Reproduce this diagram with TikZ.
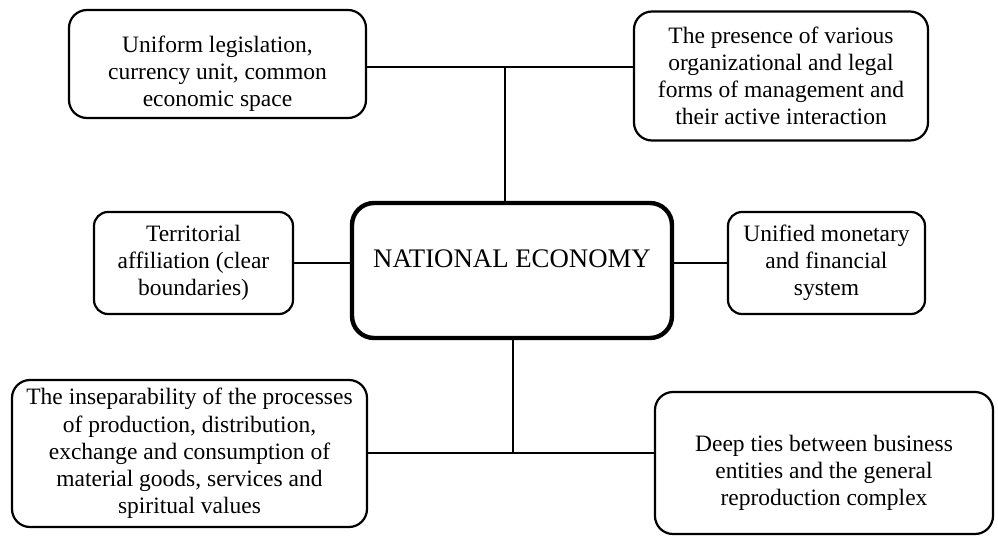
\documentclass[tikz,border=0pt]{standalone}
\usepackage{fontspec}
\setmainfont{Liberation Serif}
\usetikzlibrary{positioning}
\tikzset{main node/.style={rectangle,rounded corners=9pt,draw,line width=1.1pt,align=center,inner sep=2pt,font=\fontsize{11.75}{13.6}\selectfont} }
% strut that pushes the text of a box a little lower
\newcommand{\dropstrut}{\rule{0pt}{18pt}}

\begin{document}
\begin{tikzpicture}[x=0.5pt,y=-0.5pt]
\useasboundingbox (0,0) rectangle (998,536);

  \node[main node,line width=2.2pt,rounded corners=11pt,minimum width=160pt,minimum height=67.5pt,text height=8pt,text depth=10.6pt,font=\fontsize{13.4}{15}\selectfont] (1) at (512,270.5) {NATIONAL ECONOMY};
  \node[main node,minimum width=148.5pt,minimum height=54pt] (2) at (217.5,64) {\dropstrut Uniform legislation,\\ currency unit, common\\ economic space};
  \node[main node,minimum width=147pt,minimum height=64.5pt] (3) at (781,76) {The presence of various\\ organizational and legal\\ forms of management and\\ their active interaction};
  \node[main node,rounded corners=7pt,minimum width=99.5pt,minimum height=51pt] (4) at (193.5,263) {Territorial\\ affiliation (clear\\ boundaries)};
  \node[main node,rounded corners=7pt,minimum width=98.5pt,minimum height=51pt] (5) at (826.5,263) {Unified monetary\\ and financial\\ system};
  \node[main node,minimum width=177.5pt,minimum height=73.5pt] (6) at (189.5,453.5) {The inseparability of the processes\\ of production, distribution,\\ exchange and consumption of\\ material goods, services and\\ spiritual values};
  \node[main node,minimum width=169pt,minimum height=71pt] (7) at (824,463) {\dropstrut Deep ties between business\\ entities and the general\\ reproduction complex};

  % junctions of the branch lines
  \coordinate (a) at (505,67);
  \coordinate (b) at (513,453);

    \path[line width=0.8pt]
    (a -| 2.east) edge [-] (a -| 3.west)
    (a) edge [-] (a |- 1.north)
    (4.east) edge [-] (4.east -| 1.west)
    (5.west -| 1.east) edge [-] (5.west)
    (b |- 1.south) edge [-] (b)
    (b -| 6.east) edge [-] (b -| 7.west)
    ;
\end{tikzpicture}
\end{document}
